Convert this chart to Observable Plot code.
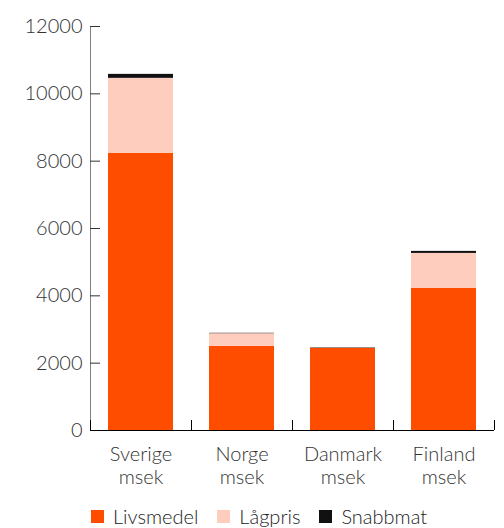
<!DOCTYPE html>
<html>
<head>
<meta charset="utf-8">
<script src="https://cdn.jsdelivr.net/npm/d3@7"></script>
<script src="https://cdn.jsdelivr.net/npm/@observablehq/plot@0.6"></script>
<style>
  html, body { margin: 0; padding: 0; background: #fff; }
  body { width: 504px; height: 528px; overflow: hidden; font-family: Lato, sans-serif; }
  #legend { display: flex; align-items: center; padding-left: 91px; margin-top: 14px; font-size: 20px; line-height: 20px; font-weight: 300; color: #222; }
  #legend .item { display: flex; align-items: center; margin-right: 19px; }
  #legend .sw { width: 13px; height: 13px; margin-right: 9px; }
</style>
</head>
<body>
<div id="chart"></div>
<script>
const categories = ["Sverige", "Norge", "Danmark", "Finland"];
const unit = "msek";
const series = ["Livsmedel", "Lågpris", "Snabbmat"];
const colors = ["#ff4d00", "#ffcdbd", "#111111"];
const livsmedel = [8230, 2500, 2440, 4220];
const lagpris = [2230, 375, 0, 1040];
const snabbmat = [118, 12, 12, 60];
const yTicks = [0, 2000, 4000, 6000, 8000, 10000, 12000];

const values = [livsmedel, lagpris, snabbmat];
const data = [];
series.forEach((s, si) => categories.forEach((c, ci) => data.push({country: c, type: s, value: values[si][ci]})));

const width = 504, height = 492, marginLeft = 90, marginRight = 10, marginTop = 26, marginBottom = 62;
const padInner = 0.36, padOuter = 0.18;
const step = (width - marginLeft - marginRight) / (categories.length - padInner + 2 * padOuter);

const plot = Plot.plot({
  width, height, marginLeft, marginRight, marginTop, marginBottom,
  style: {fontFamily: "Lato, sans-serif", fontSize: "20px", fontWeight: 300, color: "#222", background: "white"},
  x: {domain: categories, paddingInner: padInner, paddingOuter: padOuter, label: null},
  y: {domain: [0, 12000], label: null},
  color: {domain: series, range: colors},
  marks: [
    Plot.barY(data, {x: "country", y: "value", fill: "type", order: series}),
    Plot.frame({anchor: "left", stroke: "#808080"}),
    Plot.axisY(yTicks, {tickSize: -10, tickPadding: 18, tickFormat: d => String(d), stroke: "#333", fill: "#333", fontSize: 20, fontWeight: 300}),
    Plot.axisX({tickSize: 0, tickPadding: 15, lineHeight: 1.12, fill: "#333", tickFormat: d => d + "\n" + unit}),
    Plot.ruleY([0], {stroke: "black"}),
    Plot.ruleX(categories, {x: d => d, dx: step / 2, y1: 0, y2: 0, insetTop: -10, stroke: "black"}),
    Plot.ruleX(categories.slice(0, 1), {x: d => d, dx: -step / 2, y1: 0, y2: 0, insetTop: -10, stroke: "black"})
  ]
});
document.getElementById("chart").appendChild(plot);

const legend = d3.select("body").append("div").attr("id", "legend");
series.forEach((s, i) => {
  const it = legend.append("div").attr("class", "item");
  it.append("div").attr("class", "sw").style("background", colors[i]);
  it.append("span").text(s);
});
</script>
</body>
</html>
